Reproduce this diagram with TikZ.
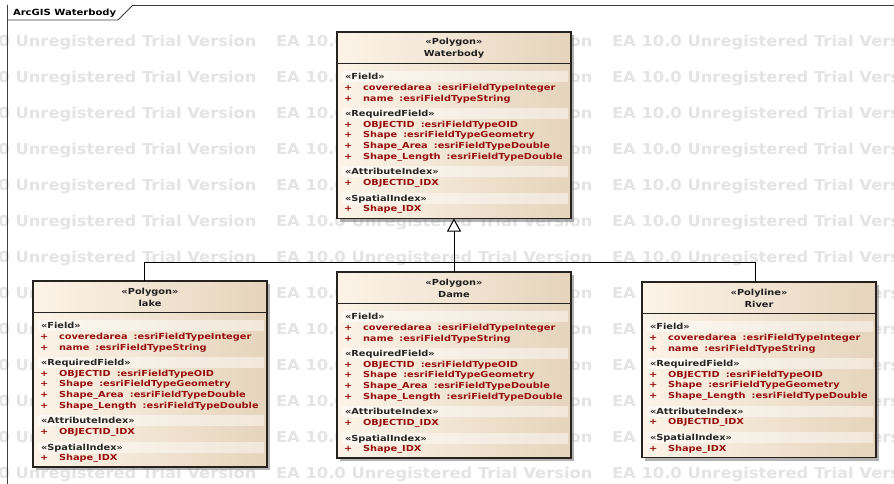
\documentclass[tikz,border=0pt]{standalone}
\usepackage{fontspec}
\usetikzlibrary{arrows.meta}

% Fonts: a slightly widened bold sans for the class boxes and the background notice
\newfontfamily\eafont{DejaVu Sans}[FakeStretch=1.18]
\newfontfamily\wmfont{DejaVu Sans}[FakeStretch=1.09]

\definecolor{attr}{RGB}{150,14,14}
\definecolor{wmgray}{RGB}{228,228,228}
\definecolor{boxL}{RGB}{252,244,232}
\definecolor{boxR}{RGB}{230,212,188}
\definecolor{edge}{RGB}{38,34,30}

\tikzset{
  every node/.style={inner sep=0pt, outer sep=0pt},
  wm/.style={font=\wmfont\bfseries\fontsize{15}{15}\selectfont, text=wmgray, anchor=west},
  umlbox/.style={draw=edge, line width=1.1pt, left color=boxL, right color=boxR,
                 anchor=north west, minimum width=234pt},
  boxshadow/.style={fill=black!55, fill opacity=0.55},
  band/.style={fill=white, fill opacity=0.45},
  divider/.style={draw=edge, line width=1.1pt},
  hdr/.style={font=\eafont\bfseries\fontsize{8.3}{8.3}\selectfont, text=black!88, anchor=base},
  sect/.style={font=\eafont\bfseries\fontsize{8.3}{8.3}\selectfont, text=black!85, anchor=base west},
  attrtxt/.style={font=\eafont\bfseries\fontsize{8.3}{8.3}\selectfont, text=attr, anchor=base west},
  gen/.style={draw=black, line width=1pt},
  frameline/.style={draw=black!75, line width=0.8pt},
}

\newcommand\gap{\hspace{6pt}}

% section label with its light band
\newcommand\sect[3]{%
  \fill[band] (5,#2-5.5) rectangle (231,#2+5.5);
  \node[sect] (#1) at (8,#2+3) {#3};}
% one attribute row
\newcommand\attrrow[3]{%
  \node[attrtxt] (#1-p) at (7,#2+3) {+};
  \node[attrtxt] (#1) at (26,#2+3) {#3};}

% #1 id, #2 left, #3 top, #4 height, #5 stereotype, #6 title, #7 1 = has Shape_Area
\newcommand\umlclass[7]{%
  \ifnum#7=1 \def\areashift{0}\else\def\areashift{-10.7}\fi
  \fill[boxshadow] (#2+3,#3+3) rectangle ++(234,#4);
  \node[umlbox, minimum height=#4 pt] (#1) at (#2,#3) {};
  \begin{scope}[shift={(#1.north west)}]
    \node[hdr] (#1-st) at (117,13) {«#5»};
    \node[hdr] (#1-nm) at (117,25) {#6};
    \draw[divider] (0,31.5) -- (234,31.5);
    \sect{#1-s1}{44.5}{«Field»}
    \attrrow{#1-a1}{55.5}{coveredarea\gap:esriFieldTypeInteger}
    \attrrow{#1-a2}{66.2}{name\gap:esriFieldTypeString}
    \sect{#1-s2}{81.5}{«RequiredField»}
    \attrrow{#1-a3}{92.2}{OBJECTID\gap:esriFieldTypeOID}
    \attrrow{#1-a4}{102.9}{Shape\gap:esriFieldTypeGeometry}
    \ifnum#7=1
      \attrrow{#1-a5}{113.6}{Shape\_Area\gap:esriFieldTypeDouble}
    \fi
    \attrrow{#1-a6}{124.3+\areashift}{Shape\_Length\gap:esriFieldTypeDouble}
    \sect{#1-s3}{139.8+\areashift}{«AttributeIndex»}
    \attrrow{#1-a7}{150.5+\areashift}{OBJECTID\_IDX}
    \sect{#1-s4}{166+\areashift}{«SpatialIndex»}
    \attrrow{#1-a8}{176.7+\areashift}{Shape\_IDX}
  \end{scope}}

\begin{document}
\begin{tikzpicture}[x=1pt, y={(0pt,-1pt)}]
  \useasboundingbox (0,0) rectangle (894,484);
  \clip (0,0) rectangle (894,484);
  \fill[white] (0,0) rectangle (894,484);

  % background notice rows
  \foreach \r in {0,...,12}
    \foreach \c in {-60,276,612}
      \node[wm] (wm-\r-\c) at (\c,42.3+36*\r) {EA 10.0 Unregistered Trial Version};

  % diagram frame with its name tab
  \draw[frameline] (7.5,484) -- (7.5,5) -- (894,5);
  \draw[frameline, fill=white] (7.5,5) -- (7.5,20) -- (118,20) -- (133,5);
  \node[sect, font=\eafont\bfseries\fontsize{8.5}{8.5}\selectfont, text=black] (frametitle)
    at (13,15.5) {ArcGIS Waterbody};

  % classes
  \umlclass{wb}{337}{32}{186.5}{Polygon}{Waterbody}{1}
  \umlclass{lake}{33}{281}{186}{Polygon}{lake}{1}
  \umlclass{dame}{337}{272}{186}{Polygon}{Dame}{1}
  \umlclass{river}{642}{282}{175.5}{Polyline}{River}{0}

  % generalisation tree
  \coordinate (junc) at (454,262);
  \draw[gen] ([xshift=-6pt]lake.north) |- (junc);
  \draw[gen] ([xshift=-4pt]river.north) |- (junc);
  \draw[gen, -{Triangle[length=13pt, width=14pt, fill=white]}] (dame.north) -- (wb.south);
\end{tikzpicture}
\end{document}
